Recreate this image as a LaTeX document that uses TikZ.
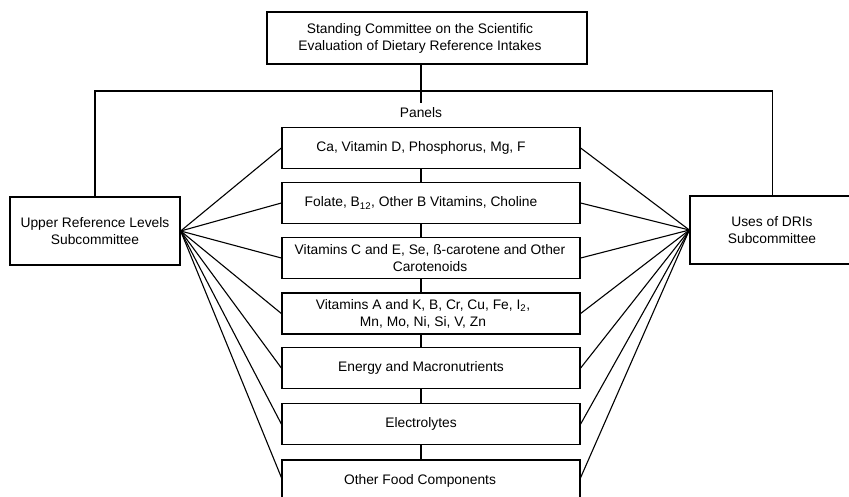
\documentclass[tikz,border=0pt]{standalone}
\usepackage{fontspec}
\setmainfont{Liberation Sans}
\begin{document}
\begin{tikzpicture}[x=1pt,y=-1pt,
  box/.style={draw,line width=1.3pt,inner sep=0pt},
  panelbox/.style={box,minimum width=298pt,minimum height=41pt},
  lbl/.style={align=center,font=\fontsize{13.8}{17}\selectfont,inner sep=0pt},
  conn/.style={line width=1.1pt}]
\useasboundingbox (0,0) rectangle (849,496);
\clip (0,0) rectangle (849,496);
% top committee
\node[box,minimum width=320pt,minimum height=52pt] (top) at (427,38) {};
\node[lbl] (toptxt) at (420,38.5) {Standing Committee on the Scientific\\Evaluation of Dietary Reference Intakes};
% subcommittees
\node[box,minimum width=170pt,minimum height=68pt] (upper) at (95,231) {};
\node[lbl] (uppertxt) at (95,231) {Upper Reference Levels\\Subcommittee};
\node[box,minimum width=165pt,minimum height=68pt] (uses) at (772.5,230) {};
\node[lbl] (usestxt) at (772,230) {Uses of DRIs\\Subcommittee};
% panels
\node[lbl] (panels) at (421,113) {Panels};
\node[panelbox] (p1) at (431,148) {};
\node[lbl] (t1) at (421,148) {Ca, Vitamin D, Phosphorus, Mg, F};
\node[panelbox] (p2) at (431,203) {};
\node[lbl] (t2) at (421,203) {Folate, B\textsubscript{12}, Other B Vitamins, Choline};
\node[panelbox] (p3) at (431,258) {};
\node[lbl] (t3) at (430,258) {Vitamins C and E, Se, ß-carotene and Other\\Carotenoids};
\node[panelbox] (p4) at (431,313.5) {};
\node[lbl] (t4) at (423,313.5) {Vitamins A and K, B, Cr, Cu, Fe, I\textsubscript{2},\\Mn, Mo, Ni, Si, V, Zn};
\node[panelbox] (p5) at (431,368) {};
\node[lbl] (t5) at (421,368) {Energy and Macronutrients};
\node[panelbox] (p6) at (431,424) {};
\node[lbl] (t6) at (421,424) {Electrolytes};
\node[panelbox,minimum height=44pt] (p7) at (431,482) {};
\node[lbl] (t7) at (420,481) {Other Food Components};
% hierarchy connectors
\coordinate (hub) at (421,91);
\coordinate (pend) at (421,103);
\draw[conn] (top.south -| hub) -- (pend);
\draw[conn] (upper.north) |- (hub) -| (uses.north);
\foreach \a/\b in {p1/p2,p2/p3,p3/p4,p4/p5,p5/p6,p6/p7}
  \draw[conn] (\a.south -| hub) -- (\b.north -| hub);
% fan connectors
\foreach \p in {p1,p2,p3,p4,p5,p6}{
  \draw[conn] (upper.east) -- (\p.west);
  \draw[conn] (uses.west) -- (\p.east);
}
\coordinate (p7l) at (282,479);
\coordinate (p7r) at (580,479);
\draw[conn] (upper.east) -- (p7l);
\draw[conn] (uses.west) -- (p7r);
\end{tikzpicture}
\end{document}
